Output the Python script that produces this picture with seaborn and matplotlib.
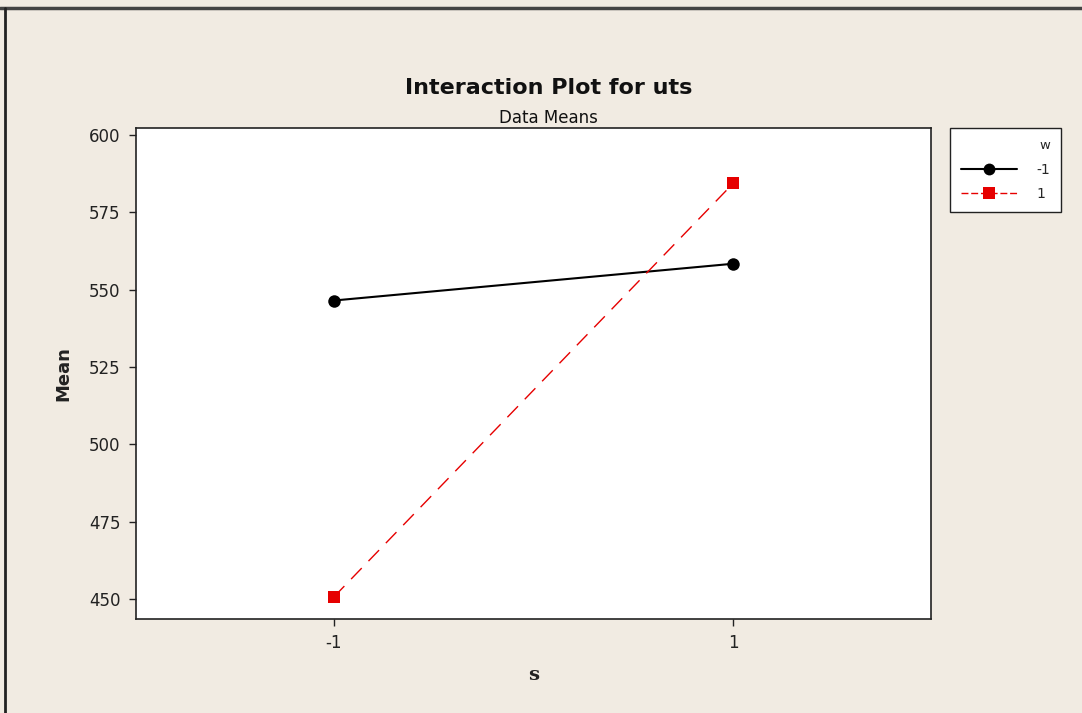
import matplotlib
matplotlib.use("Agg")
import matplotlib.pyplot as plt
from matplotlib.lines import Line2D
import seaborn as sns
import pandas as pd

# data means
s_levels = [-1, 1]
w_labels = ["-1", "1"]
mean_w_neg = [546.5, 558.4]
mean_w_pos = [450.6, 584.4]
y_ticks = [450, 475, 500, 525, 550, 575, 600]

df = pd.DataFrame({
    "s": s_levels * 2,
    "w": [w_labels[0]] * 2 + [w_labels[1]] * 2,
    "Mean": mean_w_neg + mean_w_pos,
})

bg = "#f1ebe2"
red = "#e60000"
sns.set_theme(style="ticks")
plt.rcParams["font.family"] = ["DejaVu Sans"]

fig = plt.figure(figsize=(10.82, 7.13), dpi=100, facecolor=bg)
ax = fig.add_axes([0.1257, 0.1318, 0.7347, 0.6887])
ax.set_facecolor("white")

palette = {"-1": "black", "1": red}
markers = {"-1": "o", "1": "s"}
dashes = {"-1": "", "1": (11, 7)}

sns.lineplot(data=df, x="s", y="Mean", hue="w", style="w", hue_order=w_labels,
             style_order=w_labels, palette=palette, markers=markers,
             dashes=dashes, markersize=9, markeredgewidth=0, linewidth=1.5,
             legend=False, ax=ax)
# thinner red dash line like the original
for ln in ax.get_lines():
    if ln.get_color() == red:
        ln.set_linewidth(1.0)

ax.set_xlim(-1.99, 1.99)
ax.set_ylim(443.5, 602.3)
ax.set_xticks(s_levels)
ax.set_xticklabels([str(v) for v in s_levels])
ax.set_yticks(y_ticks)
ax.tick_params(axis="both", labelsize=12, length=5, width=1, color="#222222",
               labelcolor="#222222", direction="out", pad=6)
for side in ax.spines.values():
    side.set_visible(True)
    side.set_color("#222222")
    side.set_linewidth(1.2)

ax.set_xlabel("s", fontsize=14, fontweight="bold", family="DejaVu Serif",
              labelpad=10, color="#222222")
ax.set_ylabel("Mean", fontsize=13, fontweight="bold", labelpad=12, color="#222222")

fig.text(0.507, 0.877, "Interaction Plot for uts", ha="center", va="center",
         fontsize=16, fontweight="bold", color="#111111")
fig.text(0.507, 0.835, "Data Means", ha="center", va="center",
         fontsize=12, color="#111111")

handles = [
    Line2D([], [], color="black", marker="o", markersize=8.5, markeredgewidth=0,
           linewidth=1.5),
    Line2D([], [], color=red, marker="s", markersize=8.5, markeredgewidth=0,
           linewidth=1.0, dashes=(5, 2)),
]
leg = fig.legend(handles, w_labels, title="w", loc="upper left",
                 bbox_to_anchor=(0.878, 0.8205), frameon=True, fancybox=False,
                 framealpha=1, fontsize=10, title_fontsize=9.5,
                 alignment="right", handlelength=4.0, borderpad=0.8,
                 labelspacing=0.75, handletextpad=1.4, borderaxespad=0)
leg.get_frame().set_edgecolor("#222222")
leg.get_frame().set_linewidth(1.0)
leg.get_frame().set_facecolor("white")

# window border lines on top and left
fig.add_artist(Line2D([0, 1], [0.989, 0.989], transform=fig.transFigure,
                      color="#444444", linewidth=2.5))
fig.add_artist(Line2D([0.0045, 0.0045], [0, 0.989], transform=fig.transFigure,
                      color="#222222", linewidth=2))

fig.savefig("out.png", dpi=100, facecolor=bg)
